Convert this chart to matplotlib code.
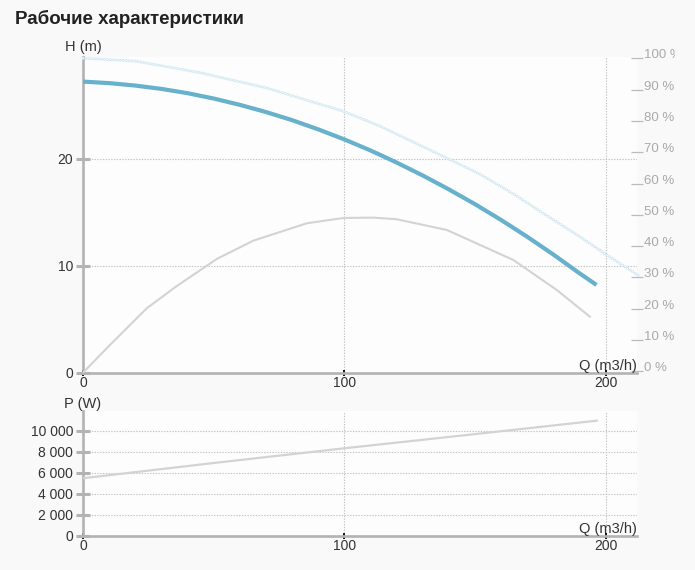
import matplotlib
matplotlib.use("Agg")
import matplotlib.pyplot as plt
from matplotlib.ticker import FixedLocator, FuncFormatter
from matplotlib.transforms import Bbox, TransformedBbox, IdentityTransform

plt.rcParams['font.family'] = ['Liberation Sans', 'DejaVu Sans']
plt.rcParams['lines.scale_dashes'] = False

# ---------------- data ----------------
q_head = [0, 10, 20, 30, 40, 50, 60, 70, 80, 90, 100, 110, 120, 130, 140, 150, 160, 170, 180, 190, 196.5]
head_m = [27.2, 27.06, 26.83, 26.52, 26.12, 25.62, 25.03, 24.36, 23.6, 22.74, 21.8, 20.77, 19.64, 18.43,
          17.13, 15.75, 14.27, 12.7, 11.04, 9.29, 8.2]

q_gray = [0, 10.3, 24.4, 35.9, 51.2, 65.2, 85.6, 99.7, 111.1, 120, 139.2, 164.7, 181.3, 194]
gray_m = [0, 2.59, 6.02, 8.1, 10.63, 12.34, 13.96, 14.46, 14.49, 14.34, 13.34, 10.53, 7.73, 5.23]

q_upper = [0, 20, 44.8, 70.3, 99.6, 113.7, 136.6, 151.9, 164.7, 177.4, 190.2, 200.4, 213.2]
upper_pct = [100, 99.1, 95.4, 90.5, 83.1, 78.3, 69.2, 63.0, 56.7, 49.8, 43.0, 37.2, 30.3]

q_power = [0, 50, 100, 150, 196.6]
power_w = [5470, 6920, 8320, 9670, 10950]

h_ticks = [0, 10, 20]
pct_ticks = [0, 10, 20, 30, 40, 50, 60, 70, 80, 90, 100]
p_ticks = [0, 2000, 4000, 6000, 8000, 10000]
q_ticks = [0, 100, 200]

title = "Рабочие характеристики"

# ---------------- style ----------------
W, H = 695, 570
FIG_BG = '#f9f9f9'
AX_BG = '#fdfdfd'
SPINE = '#b3b3b3'
GRID = '#c4c4c4'
TXT = '#333333'
BLUE = '#67b1cc'
LGRAY = '#d3d3d3'

fig = plt.figure(figsize=(W / 100, H / 100), dpi=100, facecolor=FIG_BG)

def frac(x0, y0, x1, y1):
    return [x0 / W, 1 - y1 / H, (x1 - x0) / W, (y1 - y0) / H]

ax1 = fig.add_axes(frac(83, 57, 637, 372.7))
ax2 = fig.add_axes(frac(83, 411, 637, 535.7))

def style(ax, yt, fmt):
    ax.set_facecolor(AX_BG)
    for s in ('top', 'right'):
        ax.spines[s].set_visible(False)
    for s in ('left', 'bottom'):
        ax.spines[s].set_color(SPINE)
        ax.spines[s].set_linewidth(1.9)
        ax.spines[s].set_zorder(1.5)
    ax.set_xlim(0, 212)
    ax.xaxis.set_major_locator(FixedLocator(q_ticks))
    ax.yaxis.set_major_locator(FixedLocator(yt))
    ax.yaxis.set_major_formatter(FuncFormatter(fmt))
    ax.tick_params(axis='y', direction='inout', length=10, width=2.2, color=SPINE,
                   labelsize=10, labelcolor=TXT, pad=2)
    ax.tick_params(axis='x', direction='inout', length=5, width=1.4, color='#111111',
                   labelsize=10, labelcolor=TXT, pad=0)
    ax.grid(True, color=GRID, linestyle=(0, (1, 1)), linewidth=0.8)
    ax.set_axisbelow(True)

style(ax1, h_ticks, lambda v, p: f"{int(v)}")
style(ax2, p_ticks, lambda v, p: f"{int(v):,}".replace(",", " "))
ax1.set_ylim(0, 29.5)
ax2.set_ylim(0, 11870)

# right percentage axis
axr = ax1.twinx()
axr.set_ylim(-0.4, 100.4)
axr.patch.set_visible(False)
for s in axr.spines.values():
    s.set_visible(False)
axr.yaxis.set_major_locator(FixedLocator(pct_ticks))
axr.yaxis.set_major_formatter(FuncFormatter(lambda v, p: f"{int(v)} %"))
axr.tick_params(axis='y', direction='inout', length=8, width=0.9, color='#bbbbbb',
                labelsize=9.5, labelcolor='#aaaaaa', pad=1)
clip = TransformedBbox(Bbox([[0, 0], [675, H]]), IdentityTransform())
for lab in axr.get_yticklabels():
    lab.set_verticalalignment('baseline')
    lab.set_clip_box(clip)
    lab.set_clip_on(True)

# curves
axr.plot(q_upper, upper_pct, color='#cfe7f2', lw=2.2, linestyle=(0, (0.01, 2.2)),
         dash_capstyle='round', clip_on=False, zorder=2)
axr.plot(q_upper, upper_pct, color='#ffffff', lw=1.0, linestyle=(0, (0.01, 2.2)),
         dash_capstyle='round', clip_on=False, zorder=2.1)
ax1.plot(q_gray, gray_m, color=LGRAY, lw=1.5, zorder=3)
ax1.plot(q_head, head_m, color=BLUE, lw=3.0, zorder=4, solid_capstyle='butt')
ax2.plot(q_power, power_w, color=LGRAY, lw=1.6, zorder=3)

# labels
fig.text(15 / W, 1 - 18.5 / H, title, fontsize=13.5, fontweight='bold', color='#222222',
         ha='left', va='center')
fig.text(83 / W, 1 - 47 / H, "H (m)", fontsize=10.5, color=TXT, ha='center', va='center')
fig.text(83 / W, 1 - 404 / H, "P (W)", fontsize=10.5, color=TXT, ha='center', va='center')
fig.text(637 / W, 1 - 366 / H, "Q (m3/h)", fontsize=10.5, color=TXT, ha='right', va='center')
fig.text(637 / W, 1 - 528.5 / H, "Q (m3/h)", fontsize=10.5, color=TXT, ha='right', va='center')

fig.savefig("out.png", dpi=100, facecolor=FIG_BG)
